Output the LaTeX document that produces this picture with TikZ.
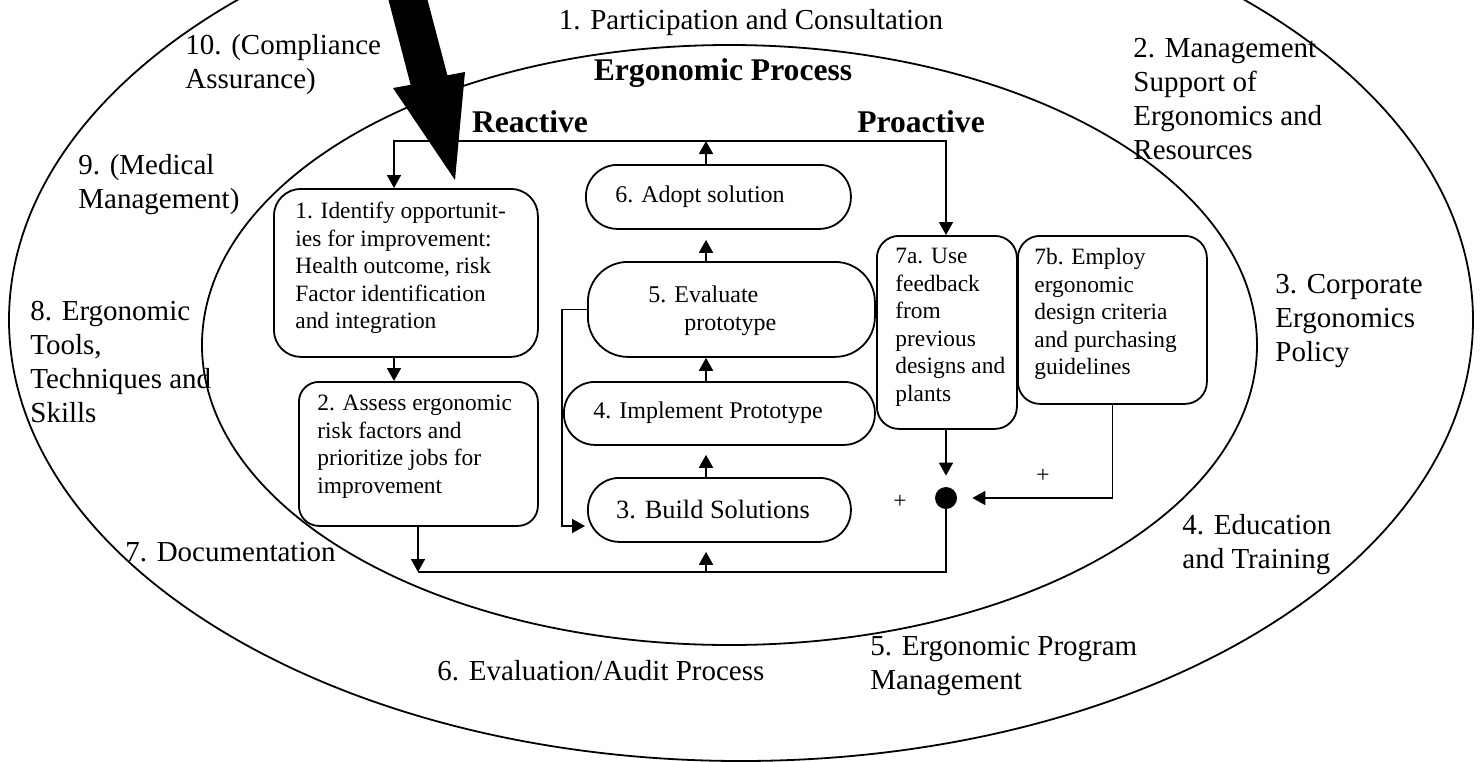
\documentclass[tikz,border=0pt]{standalone}
\usepackage{fontspec}
\setmainfont{Liberation Serif}
\usetikzlibrary{arrows.meta,calc}
\begin{document}
\begin{tikzpicture}[x=0.5pt,y=-0.5pt,
  ln/.style={line width=0.9pt},
  arr/.style={ln,-{Triangle[length=6.5pt,width=7pt]}},
  boxshape/.style={draw,ln,rectangle,inner sep=0pt,anchor=north west},
  otext/.style={font=\fontsize{14.5}{17}\selectfont,align=left,inner sep=0pt,anchor=west},
  btext/.style={font=\fontsize{11.7}{13.75}\selectfont,align=left,inner sep=0pt,anchor=west},
  stext/.style={font=\fontsize{12}{14}\selectfont,inner sep=0pt},
  htext/.style={font=\fontsize{15.8}{18}\selectfont\bfseries,inner sep=0pt},
]
\useasboundingbox (0,0) rectangle (1484,761);
\clip (0,0) rectangle (1484,761);

% rings
\draw[ln] (741,320) ellipse [x radius=366pt, y radius=220.5pt];
\draw[ln] (729.5,345) ellipse [x radius=263.75pt, y radius=150pt];

% ring labels
\node[otext, anchor=center] (l1) at (751,23) {1. Participation and Consultation};
\node[otext] (l10) at (185,65) {10. (Compliance\\Assurance)};
\node[otext] (l2) at (1133,99) {2. Management\\Support of\\Ergonomics and\\Resources};
\node[otext] (l9) at (78,185) {9. (Medical\\Management)};
\node[otext] (l8) at (30,362) {8. Ergonomic\\Tools,\\Techniques and\\Skills};
\node[otext] (l7) at (125,552) {7. Documentation};
\node[otext] (l6) at (437,671) {6. Evaluation/Audit Process};
\node[otext] (l5) at (870,666) {5. Ergonomic Program\\Management};
\node[otext] (l4) at (1182,545) {4. Education\\and Training};
\node[otext] (l3) at (1275,321) {3. Corporate\\Ergonomics\\Policy};

% headings
\node[htext] (ep) at (723,73) {Ergonomic Process};
\node[htext] (re) at (530,122) {Reactive};
\node[htext] (pr) at (921,122) {Proactive};

% boxes
\node[boxshape, rounded corners=13.5pt, minimum width=132pt, minimum height=84pt] (b1) at (273,188) {};
\node[boxshape, rounded corners=10pt, minimum width=119.5pt, minimum height=72pt] (b2) at (298,381) {};
\node[boxshape, rounded corners=15.75pt, minimum width=132.5pt, minimum height=32pt] (b6) at (585,164) {};
\node[boxshape, rounded corners=20pt, minimum width=143.5pt, minimum height=47.5pt] (b5) at (587,261) {};
\node[boxshape, rounded corners=15.5pt, minimum width=155.5pt, minimum height=31.5pt] (b4) at (563,381) {};
\node[boxshape, rounded corners=15.75pt, minimum width=131.5pt, minimum height=32pt] (b3) at (587,477) {};
\node[boxshape, rounded corners=11pt, minimum width=70pt, minimum height=96.5pt] (b7a) at (876,235) {};
\node[boxshape, rounded corners=11pt, minimum width=94.5pt, minimum height=84pt] (b7b) at (1017,235) {};
\node[circle, fill, inner sep=0pt, minimum size=11pt] (dot) at (946,498) {};

% box texts
\node[btext] (t1) at (295,268) {1. Identify opportunit-\\ies for improvement:\\Health outcome, risk\\Factor identification\\and integration};
\node[btext] (t2) at (317,446.5) {2. Assess ergonomic\\risk factors and\\prioritize jobs for\\improvement};
\node[btext] (t7a) at (895,327.5) {7a. Use\\feedback\\from\\previous\\designs and\\plants};
\node[btext] (t7b) at (1034,314) {7b. Employ\\ergonomic\\design criteria\\and purchasing\\guidelines};
\node[stext] (t6) at (700,197) {6. Adopt solution};
\node[stext, anchor=west, align=left] (t5) at (648,311) {5. Evaluate\\\hspace*{18pt}prototype};
\node[stext] (t4) at (708,413) {4. Implement Prototype};
\node[stext, font=\fontsize{13.2}{15}\selectfont] (t3) at (713,510) {3. Build Solutions};
\node[btext, anchor=center] (p1) at (900,502) {+};
\node[btext, anchor=center] (p2) at (1043,476) {+};

% connector coordinates
\coordinate (tl) at (394,141);
\coordinate (tr) at (946,141);
\coordinate (ax) at (706,141);
\coordinate (bl) at (418,572);
\coordinate (lx) at (562,526);
\coordinate (le) at (585,526);

% top loop
\draw[arr] (b6.north -| ax) -- (ax);
\draw[arr] (tr) -- (tl) -- (tl |- b1.north);
\draw[arr] (tl) -- (tr) -- (tr |- b7a.north);
% reactive chain
\draw[arr] (b1.south -| tl) -- (b2.north -| tl);
\draw[arr] (b2.south -| bl) -- (bl);
\draw[ln] (dot.south) -- (dot.south |- bl) -- (bl);
\draw[arr, shorten >=4.5pt] (bl -| ax) -- (b3.south -| ax);
\draw[arr, shorten >=4.5pt] (b3.north -| ax) -- (b4.south -| ax);
\draw[arr] (b4.north -| ax) -- (b5.south -| ax);
\draw[arr, shorten >=5pt] (b5.north -| ax) -- (b6.south -| ax);
\draw[arr] (b5.west) -- (b5.west -| lx) -- (lx) -- (le);
% proactive
\draw[arr, shorten >=5.5pt] (b7a.south -| dot) -- (dot.north);
\draw[arr, shorten >=7.5pt] (b7b.south) -- (b7b.south |- dot) -- (dot.east);

% big input arrow
\fill (388,-2) -- (410.6,84.8) -- (393,88) -- (455,180) -- (465,72) -- (447.4,75.3) -- (427,-2) -- cycle;
\end{tikzpicture}
\end{document}
